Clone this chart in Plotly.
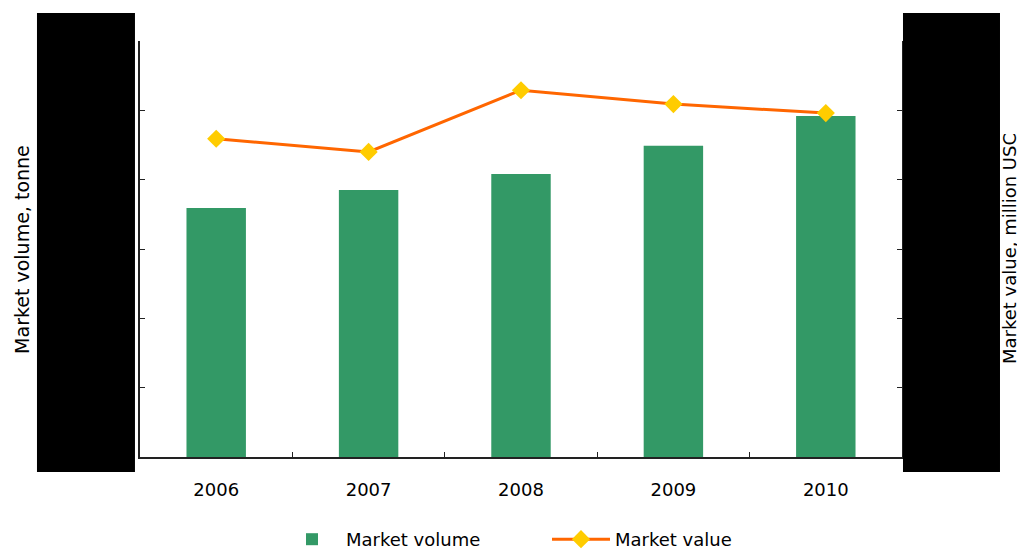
import plotly.graph_objects as go

years = ["2006", "2007", "2008", "2009", "2010"]
market_volume = [3.59, 3.85, 4.08, 4.49, 4.92]
market_value = [4.59, 4.40, 5.29, 5.09, 4.96]

FONT = "DejaVu Sans, Liberation Sans, Arial, sans-serif"

fig = go.Figure()
fig.add_trace(go.Bar(
    x=years, y=market_volume, name="Market volume",
    marker=dict(color="#339966", line=dict(width=0)), width=0.39,
))
fig.add_trace(go.Scatter(
    x=years, y=market_value, name="Market value", yaxis="y2",
    mode="lines+markers",
    line=dict(color="#FF6600", width=3),
    marker=dict(symbol="diamond", size=14, color="#FFCC00"),
))

axis_common = dict(range=[0, 6], dtick=1, showgrid=False, zeroline=False,
                   showline=True, linecolor="#222", linewidth=1.5,
                   ticks="inside", ticklen=5, tickcolor="#222",
                   showticklabels=False)

# page body has an 8px margin, so the figure is offset to fit the window
fig.update_layout(
    width=1017, height=550,
    margin=dict(l=132, r=123, t=33, b=101),
    paper_bgcolor="white", plot_bgcolor="white",
    font=dict(family=FONT, size=18, color="black"),
    showlegend=True,
    legend=dict(orientation="h", xref="paper", x=0.1811, xanchor="left",
                yref="container", y=0.0, yanchor="bottom",
                font=dict(size=18), entrywidth=196, itemwidth=58),
    xaxis=dict(type="category", showgrid=False, showline=True, linecolor="#222",
               linewidth=1.5, ticks="inside", ticklen=5, tickcolor="#222",
               tickson="boundaries", tickfont=dict(size=18), ticklabelstandoff=16),
    yaxis=dict(**axis_common),
    yaxis2=dict(**axis_common, overlaying="y", side="right"),
    shapes=[
        dict(type="rect", xref="paper", yref="paper", x0=-0.1352, x1=-0.0066,
             y0=-0.0361, y1=1.0673, fillcolor="black", line=dict(width=0), layer="above"),
        dict(type="rect", xref="paper", yref="paper", x0=1.0013, x1=1.1286,
             y0=-0.0361, y1=1.0673, fillcolor="black", line=dict(width=0), layer="above"),
    ],
    annotations=[
        dict(text="Market volume, tonne", xref="paper", yref="paper", x=-0.155, y=0.5,
             textangle=-90, showarrow=False, font=dict(size=19), xanchor="center", yanchor="middle"),
        dict(text="Market value, million USC", xref="paper", yref="paper", x=1.1405, y=0.5,
             textangle=-90, showarrow=False, font=dict(size=18), xanchor="center", yanchor="middle"),
    ],
)

fig.write_html("out.html")
